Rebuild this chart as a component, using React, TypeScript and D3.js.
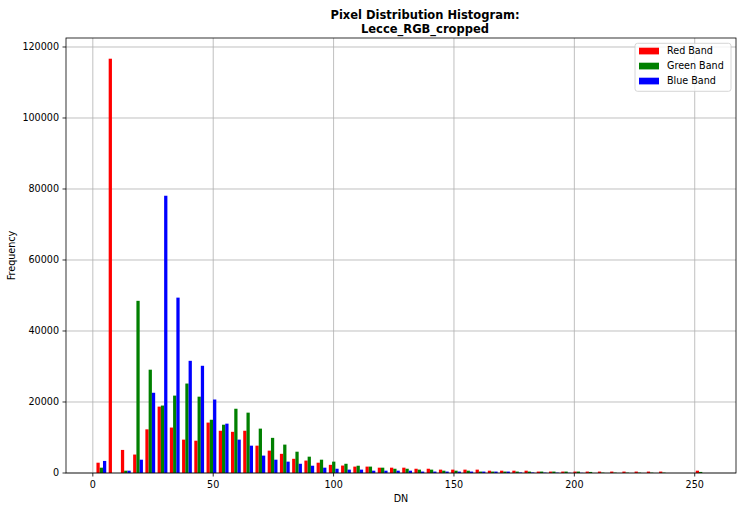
import React from "react";
import * as d3 from "d3";

// Histogram settings: 50 bins between the data min and max
const binStart = 1;
const binEnd = 255;
const binCount = 50;

const seriesNames = ["Red Band", "Green Band", "Blue Band"];
const seriesColors = ["#ff0000", "#008000", "#0000ff"];

const redCounts = [
  2900, 116700, 6500, 5200, 12300, 18700, 12800, 9400, 9100, 14200,
  11900, 11600, 11900, 7700, 6300, 5400, 4000, 3500, 2900, 2300,
  2100, 1800, 1800, 1500, 1500, 1500, 1200, 1200, 950, 950,
  950, 950, 650, 650, 650, 650, 400, 400, 400, 400,
  400, 400, 400, 400, 400, 400, 400, 0, 0, 650,
];
const greenCounts = [
  1500, 0, 650, 48500, 29100, 19000, 21800, 25200, 21500, 15000,
  13600, 18100, 17000, 12500, 9900, 8000, 6000, 4600, 3750, 3200,
  2600, 2050, 1800, 1500, 1200, 1200, 950, 950, 650, 650,
  650, 400, 400, 400, 400, 400, 400, 400, 400, 400,
  300, 100, 100, 100, 100, 100, 100, 0, 0, 300,
];
const blueCounts = [
  3400, 0, 650, 3750, 22600, 78100, 49400, 31600, 30200, 20700,
  13900, 9400, 7700, 4900, 3750, 3200, 2600, 2050, 1500, 1200,
  950, 950, 650, 650, 650, 650, 400, 400, 400, 400,
  400, 400, 400, 400, 150, 150, 100, 100, 50, 50,
  0, 0, 0, 0, 0, 0, 0, 0, 0, 0,
];

const xTicks = [0, 50, 100, 150, 200, 250];
const yTicks = [0, 20000, 40000, 60000, 80000, 100000, 120000];

const titleLines = ["Pixel Distribution Histogram:", "Lecce_RGB_cropped"];
const xLabel = "DN";
const yLabel = "Frequency";

const W = 742;
const H = 511;
const M = { left: 66, top: 38, right: 736, bottom: 473 };
const FONT = "DejaVu Sans, sans-serif";

export default function App() {
  const series = [redCounts, greenCounts, blueCounts];
  const binW = (binEnd - binStart) / binCount;
  const barW = (0.8 * binW) / series.length;

  const lo = binStart + 0.1 * binW;
  const hi = binStart + (binCount - 1) * binW + 0.1 * binW + series.length * barW;
  const pad = (hi - lo) * 0.05;
  const x = d3.scaleLinear().domain([lo - pad, hi + pad]).range([M.left, M.right]);

  const maxVal = d3.max(series.flat()) as number;
  const y = d3.scaleLinear().domain([0, maxVal * 1.05]).range([M.bottom, M.top]);

  const grid = "#b0b0b0";
  const titleX = 425;

  return (
    <svg width={W} height={H} style={{ position: "absolute", left: 0, top: 0, background: "#fff" }} fontFamily={FONT}>
      <rect x={0} y={0} width={W} height={H} fill="#fff" />
      {/* grid */}
      {xTicks.map((t) => (
        <line key={"gx" + t} x1={x(t)} x2={x(t)} y1={M.top} y2={M.bottom} stroke={grid} strokeWidth={0.8} />
      ))}
      {yTicks.map((t) => (
        <line key={"gy" + t} x1={M.left} x2={M.right} y1={y(t)} y2={y(t)} stroke={grid} strokeWidth={0.8} />
      ))}
      {/* bars */}
      {series.map((vals, s) =>
        vals.map((v, i) => {
          if (v <= 0) return null;
          const x0 = binStart + i * binW + 0.1 * binW + s * barW;
          return (
            <rect
              key={s + "-" + i}
              x={x(x0)}
              y={y(v)}
              width={x(x0 + barW) - x(x0)}
              height={y(0) - y(v)}
              fill={seriesColors[s]}
            />
          );
        })
      )}
      {/* spines */}
      <rect x={M.left} y={M.top} width={M.right - M.left} height={M.bottom - M.top} fill="none" stroke="#000" strokeWidth={0.8} />
      {/* x ticks */}
      {xTicks.map((t) => (
        <g key={"xt" + t}>
          <line x1={x(t)} x2={x(t)} y1={M.bottom} y2={M.bottom + 3.5} stroke="#000" strokeWidth={0.8} />
          <text x={x(t)} y={M.bottom + 14.5} textAnchor="middle" fontSize={9.6} fill="#000">
            {t}
          </text>
        </g>
      ))}
      {/* y ticks */}
      {yTicks.map((t) => (
        <g key={"yt" + t}>
          <line x1={M.left - 3.5} x2={M.left} y1={y(t)} y2={y(t)} stroke="#000" strokeWidth={0.8} />
          <text x={M.left - 7} y={y(t)} dy="0.36em" textAnchor="end" fontSize={9.6} fill="#000">
            {t}
          </text>
        </g>
      ))}
      {/* axis labels */}
      <text x={(M.left + M.right) / 2} y={501.5} textAnchor="middle" fontSize={9.6} fill="#000">
        {xLabel}
      </text>
      <text
        transform={`translate(14.5, ${(M.top + M.bottom) / 2}) rotate(-90)`}
        textAnchor="middle"
        fontSize={9.6}
        fill="#000"
      >
        {yLabel}
      </text>
      {/* title */}
      {titleLines.map((l, i) => (
        <text key={l} x={titleX} y={18.5 + i * 14} textAnchor="middle" fontSize={11.5} fontWeight="bold" fill="#000">
          {l}
        </text>
      ))}
      {/* legend */}
      <rect x={635} y={43.3} width={96} height={48} rx={2.5} fill="#fff" fillOpacity={0.8} stroke="#cccccc" strokeWidth={0.8} />
      {seriesNames.map((n, i) => (
        <g key={n}>
          <rect x={639} y={47.7 + i * 15} width={20} height={6.7} fill={seriesColors[i]} />
          <text x={667} y={54.3 + i * 15} fontSize={9.6} fill="#000">
            {n}
          </text>
        </g>
      ))}
    </svg>
  );
}
